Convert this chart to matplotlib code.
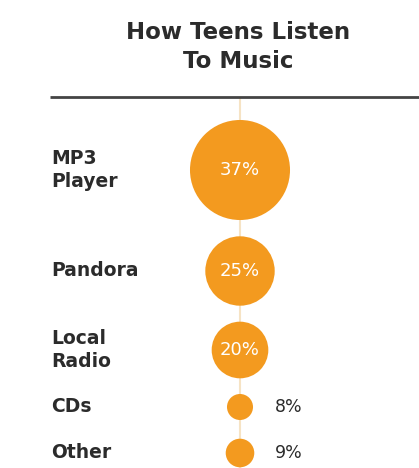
import matplotlib.pyplot as plt
from matplotlib.patches import Circle

# Data
categories = ['MP3\nPlayer', 'Pandora', 'Local\nRadio', 'CDs', 'Other']
shares = [37, 25, 20, 8, 9]

# layout (pixel coords of the 419x468 canvas)
row_y = [170, 271, 350, 407, 453]
cx = 240
orange = '#F39A1F'
dark = '#2b2b2b'

fig = plt.figure(figsize=(4.19, 4.68), dpi=100)
ax = fig.add_axes([0, 0, 1, 1])
ax.set_xlim(0, 419)
ax.set_ylim(468, 0)
ax.axis('off')

# title and rule
ax.text(238, 47, 'How Teens Listen\nTo Music', ha='center', va='center',
        fontsize=16.5, fontweight='bold', color=dark, linespacing=1.28)
ax.plot([50, 419], [97, 97], color='#444444', lw=2, solid_capstyle='butt')

# faint guide line
ax.plot([cx, cx], [99, 468], color='#f6e3c4', lw=1.5, zorder=1)

for label, val, y in zip(categories, shares, row_y):
    r = 2.8 + val * 1.276   # circle radius grows with the share
    ax.add_patch(Circle((cx, y), r, facecolor=orange, edgecolor='none', zorder=2))
    ax.text(51, y, label, ha='left', va='center', fontsize=13.5,
            fontweight='bold', color=dark, linespacing=1.25)
    if r > 20:
        ax.text(cx, y, f'{val}%', ha='center', va='center', fontsize=13,
                color='white', zorder=3)
    else:
        ax.text(275, y, f'{val}%', ha='left', va='center', fontsize=12.5,
                color=dark)

plt.savefig('out.png', dpi=100)
